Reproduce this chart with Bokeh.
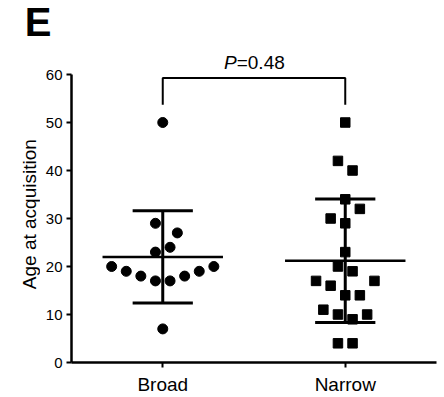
import numpy as np
from bokeh.plotting import figure
from bokeh.layouts import column, row
from bokeh.models import FixedTicker, Range1d
from bokeh.core.properties import value
from bokeh.embed import file_html
from bokeh.resources import INLINE

# ---- data ----
categories = ["Broad", "Narrow"]
broad_ages = [50, 29, 27, 24, 23, 20, 19, 18, 17, 17, 18, 19, 20, 7]
broad_jitter = [0, -0.5, 1, 0.5, -0.5, -3.5, -2.5, -1.5, -0.5, 0.5, 1.5, 2.5, 3.5, 0]
narrow_ages = [50, 42, 40, 34, 32, 30, 29, 23, 20, 19, 17, 16, 17, 14, 14, 11, 10, 9, 10, 4, 4]
narrow_jitter = [0, -0.5, 0.5, 0, 1, -1, 0, 0, -0.5, 0.5, -2, -1, 2, 0, 1, -1.5, -0.5, 0.5, 1.5, -0.5, 0.5]
y_ticks = [0, 10, 20, 30, 40, 50, 60]
y_label = "Age at acquisition"
p_value = "0.48"
panel_letter = "E"

FONT = "Liberation Sans"
STEP = 0.08            # horizontal spacing of swarm points (x units)
positions = [1, 2]

# layout (pixels)
W = 442
LAB_W = 40             # strip holding the y-axis title
LEFT, RIGHT = 71, 6    # frame left edge on the page, right border
TOP_H = 46             # header strip holding the panel letter
MAIN_H = 351
MAIN_BOTTOM = 35
AXIS_TOP_PX = 74       # page y of the value 60
X0, X1 = 0.5, 2.5
Y0, Y1 = 0, 60

frame_w = W - LEFT - RIGHT
frame_h = MAIN_H - MAIN_BOTTOM
px_per_x = frame_w / (X1 - X0)
px_per_y = (TOP_H + frame_h - AXIS_TOP_PX) / (Y1 - Y0)
Y_END = Y0 + frame_h / px_per_y


def bare(fig):
    fig.axis.visible = False
    fig.xgrid.visible = False
    fig.ygrid.visible = False
    fig.outline_line_color = None
    fig.background_fill_color = "white"
    fig.border_fill_color = "white"


p = figure(width=W - LAB_W, height=MAIN_H, x_range=Range1d(X0, X1), y_range=Range1d(Y0, Y_END),
           output_backend="svg", toolbar_location=None, title=None,
           min_border_left=LEFT - LAB_W, min_border_top=0, min_border_right=RIGHT,
           min_border_bottom=MAIN_BOTTOM)
p.background_fill_color = "white"
p.border_fill_color = "white"
p.outline_line_color = None
p.xgrid.visible = False
p.ygrid.visible = False

for ax in (p.xaxis[0], p.yaxis[0]):
    ax.axis_line_width = 2.5
    ax.axis_line_color = "black"
    ax.major_tick_line_width = 2
    ax.major_tick_line_color = "black"
    ax.major_tick_out = 5
    ax.major_tick_in = 0
    ax.minor_tick_line_color = None
    ax.major_label_text_font = FONT
    ax.major_label_text_color = "black"

p.xaxis.ticker = FixedTicker(ticks=positions)
p.xaxis.major_label_overrides = {pos: c for pos, c in zip(positions, categories)}
p.xaxis.major_label_text_font_size = "19px"
p.xaxis.major_label_standoff = 6

p.yaxis.ticker = FixedTicker(ticks=y_ticks)
p.yaxis.bounds = (Y0, Y1)
p.yaxis.major_label_text_font_size = "15px"
p.yaxis.major_label_standoff = 4

groups = [(broad_ages, broad_jitter, "circle", 10), (narrow_ages, narrow_jitter, "square", 9.5)]
for pos, (ages, jit, marker, size) in zip(positions, groups):
    xs = [pos + j * STEP for j in jit]
    p.scatter(xs, ages, marker=marker, size=size, color="black")
    m = float(np.mean(ages))
    sd = float(np.std(ages, ddof=1))
    p.segment(x0=[pos - 0.33], x1=[pos + 0.33], y0=[m], y1=[m], line_width=2.5, line_color="black")
    p.segment(x0=[pos], x1=[pos], y0=[m - sd], y1=[m + sd], line_width=3, line_color="black")
    p.segment(x0=[pos - 0.165, pos - 0.165], x1=[pos + 0.165, pos + 0.165],
              y0=[m - sd, m + sd], y1=[m - sd, m + sd], line_width=3, line_color="black")

# significance bracket and P value
p.line([positions[0], positions[0], positions[1], positions[1]], [53.7, 59.25, 59.25, 53.7],
       line_width=2, line_color="black")
mid = (positions[0] + positions[1]) / 2
p.text(x=[mid], y=[62.56], text=["P"], x_offset=-30, text_font=value(FONT),
       text_font_size="19px", text_font_style="italic", text_baseline="middle",
       text_align="left", text_color="black")
p.text(x=[mid], y=[62.56], text=["=" + p_value], x_offset=-17.3, text_font=value(FONT),
       text_font_size="19px", text_baseline="middle", text_align="left", text_color="black")

# y-axis title strip (same y data coordinates as the plot)
lab = figure(width=LAB_W, height=MAIN_H, x_range=Range1d(0, LAB_W),
             y_range=Range1d(Y0 - MAIN_BOTTOM / px_per_y, Y_END),
             output_backend="svg", toolbar_location=None, title=None,
             min_border_left=0, min_border_right=0, min_border_top=0, min_border_bottom=0)
bare(lab)
lab.text(x=[29], y=[30.9], text=[y_label], angle=np.pi / 2, text_font=value(FONT),
         text_font_size="19px", text_baseline="middle", text_align="center", text_color="black")

# header strip with the panel letter
top = figure(width=W, height=TOP_H,
             x_range=Range1d(X0 - LEFT / px_per_x, X1 + RIGHT / px_per_x),
             y_range=Range1d(Y1 + (AXIS_TOP_PX - TOP_H) / px_per_y, Y1 + AXIS_TOP_PX / px_per_y),
             output_backend="svg", toolbar_location=None, title=None,
             min_border_left=0, min_border_right=0, min_border_top=0, min_border_bottom=0)
bare(top)
top.text(x=[0.244], y=[71.0], text=[panel_letter], text_font=value(FONT), text_font_size="40px",
         text_font_style="bold", text_baseline="middle", text_align="left", text_color="black")

layout = column(row(top), row(row(lab), p, spacing=0), spacing=0)
open("out.html", "w").write(file_html(layout, INLINE))
